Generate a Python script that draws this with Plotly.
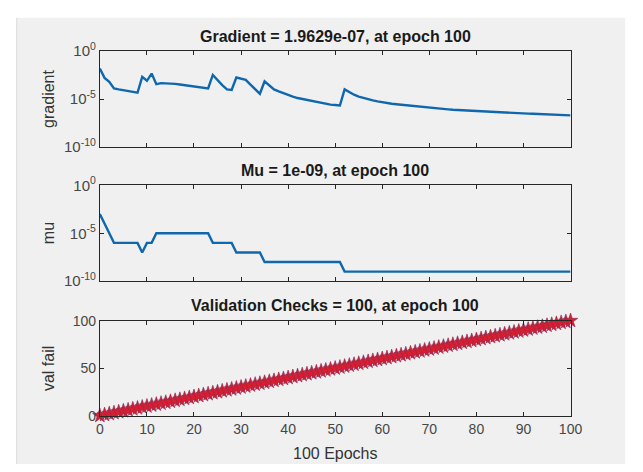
import plotly.graph_objects as go

W, H = 643, 472

epochs = [
    0, 1, 2, 3, 4, 5, 6, 7, 8, 9, 10, 11, 12, 13, 14, 15, 16, 17, 18, 19,
    20, 21, 22, 23, 24, 25, 26, 27, 28, 29, 30, 31, 32, 33, 34, 35, 36, 37, 38, 39,
    40, 41, 42, 43, 44, 45, 46, 47, 48, 49, 50, 51, 52, 53, 54, 55, 56, 57, 58, 59,
    60, 61, 62, 63, 64, 65, 66, 67, 68, 69, 70, 71, 72, 73, 74, 75, 76, 77, 78, 79,
    80, 81, 82, 83, 84, 85, 86, 87, 88, 89, 90, 91, 92, 93, 94, 95, 96, 97, 98, 99,
    100,
]

gradient = [
    1.48e-2, 1.58e-3, 6.3e-4, 1.26e-4, 1.0e-4, 7.9e-5, 6.3e-5, 5.0e-5, 4.5e-5, 2.0e-3,
    7.9e-4, 4.5e-3, 3.5e-4, 4.5e-4, 4.5e-4, 4.0e-4, 3.8e-4, 3.2e-4, 2.8e-4, 2.5e-4,
    2.0e-4, 1.6e-4, 1.4e-4, 1.26e-4, 3.2e-3, 8.9e-4, 2.8e-4, 1.0e-4, 8.9e-5, 1.74e-3,
    1.26e-3, 1.0e-3, 3.2e-4, 1.0e-4, 3.5e-5, 7.1e-4, 2.5e-4, 1.0e-4, 6.3e-5, 4.0e-5,
    2.8e-5, 1.8e-5, 1.26e-5, 1.0e-5, 7.9e-6, 6.3e-6, 5.0e-6, 4.0e-6, 3.2e-6, 2.6e-6,
    2.4e-6, 2.1e-6, 1.0e-4, 5.0e-5, 2.8e-5, 1.8e-5, 1.26e-5, 8.9e-6, 7.1e-6, 5.6e-6,
    4.5e-6, 3.5e-6, 3.2e-6, 2.8e-6, 2.5e-6, 2.1e-6, 1.9e-6, 1.66e-6, 1.4e-6, 1.26e-6,
    1.17e-6, 1.07e-6, 1.0e-6, 8.9e-7, 8.3e-7, 7.6e-7, 7.1e-7, 6.6e-7, 6.3e-7, 5.75e-7,
    5.4e-7, 5.0e-7, 4.8e-7, 4.5e-7, 4.3e-7, 4.0e-7, 3.8e-7, 3.6e-7, 3.5e-7, 3.3e-7,
    3.2e-7, 3.0e-7, 2.9e-7, 2.75e-7, 2.6e-7, 2.5e-7, 2.4e-7, 2.3e-7, 2.2e-7, 2.04e-7,
    1.9629e-7,
]

mu = [
    1e-3, 1e-4, 1e-5, 1e-6, 1e-6, 1e-6, 1e-6, 1e-6, 1e-6, 1e-7,
    1e-6, 1e-6, 1e-5, 1e-5, 1e-5, 1e-5, 1e-5, 1e-5, 1e-5, 1e-5,
    1e-5, 1e-5, 1e-5, 1e-5, 1e-6, 1e-6, 1e-6, 1e-6, 1e-6, 1e-7,
    1e-7, 1e-7, 1e-7, 1e-7, 1e-7, 1e-8, 1e-8, 1e-8, 1e-8, 1e-8,
    1e-8, 1e-8, 1e-8, 1e-8, 1e-8, 1e-8, 1e-8, 1e-8, 1e-8, 1e-8,
    1e-8, 1e-8, 1e-9, 1e-9, 1e-9, 1e-9, 1e-9, 1e-9, 1e-9, 1e-9,
    1e-9, 1e-9, 1e-9, 1e-9, 1e-9, 1e-9, 1e-9, 1e-9, 1e-9, 1e-9,
    1e-9, 1e-9, 1e-9, 1e-9, 1e-9, 1e-9, 1e-9, 1e-9, 1e-9, 1e-9,
    1e-9, 1e-9, 1e-9, 1e-9, 1e-9, 1e-9, 1e-9, 1e-9, 1e-9, 1e-9,
    1e-9, 1e-9, 1e-9, 1e-9, 1e-9, 1e-9, 1e-9, 1e-9, 1e-9, 1e-9,
    1e-9,
]

val_fail = [
    0, 1, 2, 3, 4, 5, 6, 7, 8, 9, 10, 11, 12, 13, 14, 15, 16, 17, 18, 19,
    20, 21, 22, 23, 24, 25, 26, 27, 28, 29, 30, 31, 32, 33, 34, 35, 36, 37, 38, 39,
    40, 41, 42, 43, 44, 45, 46, 47, 48, 49, 50, 51, 52, 53, 54, 55, 56, 57, 58, 59,
    60, 61, 62, 63, 64, 65, 66, 67, 68, 69, 70, 71, 72, 73, 74, 75, 76, 77, 78, 79,
    80, 81, 82, 83, 84, 85, 86, 87, 88, 89, 90, 91, 92, 93, 94, 95, 96, 97, 98, 99,
    100,
]

titles = [
    "Gradient = 1.9629e-07, at epoch 100",
    "Mu = 1e-09, at epoch 100",
    "Validation Checks = 100, at epoch 100",
]
y_labels = ["gradient", "mu", "val fail"]
x_label = "100 Epochs"
x_ticks = [0, 10, 20, 30, 40, 50, 60, 70, 80, 90, 100]
log_ticks = [1e-10, 1e-5, 1e0]
log_tick_text = ["10<sup>-10</sup>", "10<sup>-5</sup>", "10<sup>0</sup>"]
lin_ticks = [0, 50, 100]

FONT = "Arial, 'Liberation Sans', sans-serif"
BLUE = "#0f68ad"
TICKC = "#474747"

def px_x(p):
    return p / W

def px_y(p):
    return 1 - p / H

xd = [px_x(98.3), px_x(581)]
doms = [
    [px_y(141.7), px_y(41.7)],
    [px_y(281.5), px_y(181.7)],
    [px_y(421.7), px_y(322.7)],
]

fig = go.Figure()
fig.add_trace(go.Scatter(x=epochs, y=gradient, mode="lines",
                         line=dict(color=BLUE, width=2.4), xaxis="x", yaxis="y",
                         showlegend=False))
fig.add_trace(go.Scatter(x=epochs, y=mu, mode="lines",
                         line=dict(color=BLUE, width=2.4), xaxis="x2", yaxis="y2",
                         showlegend=False))
fig.add_trace(go.Scatter(x=epochs, y=val_fail, mode="lines+markers",
                         line=dict(color=BLUE, width=1.5),
                         marker=dict(symbol="star", size=11, color="#d81e2f",
                                     line=dict(color="#8a2a55", width=0.6)),
                         cliponaxis=False, xaxis="x3", yaxis="y3",
                         showlegend=False))

axis_common = dict(
    showline=True, linecolor="#262626", linewidth=1, mirror="ticks",
    ticks="inside", ticklen=4, tickcolor="#262626", showgrid=False,
    zeroline=False, tickfont=dict(family=FONT, size=14, color=TICKC),
)
log_font = dict(family=FONT, size=15, color=TICKC)

xa = dict(axis_common, domain=xd, range=[0, 100], tickvals=x_ticks)
layout = dict(
    width=W, height=H,
    margin=dict(l=0, r=0, t=0, b=0),
    paper_bgcolor="white", plot_bgcolor="white",
    font=dict(family=FONT),
    xaxis=dict(xa, anchor="y", showticklabels=False),
    xaxis2=dict(xa, anchor="y2", showticklabels=False),
    xaxis3=dict(xa, anchor="y3", showticklabels=True,
                ticktext=[str(v) for v in x_ticks]),
    yaxis=dict(axis_common, domain=doms[0], anchor="x", type="log",
               range=[-10, 0], tickvals=log_ticks, ticktext=log_tick_text,
               tickfont=log_font),
    yaxis2=dict(axis_common, domain=doms[1], anchor="x2", type="log",
                range=[-10, 0], tickvals=log_ticks, ticktext=log_tick_text,
                tickfont=log_font),
    yaxis3=dict(axis_common, domain=doms[2], anchor="x3", range=[0, 100],
                tickvals=lin_ticks),
)
fig.update_layout(**layout)

# gray figure background (MATLAB window) with white strip on top / left / right
fig.add_shape(type="rect", xref="paper", yref="paper", layer="below",
              x0=px_x(13), x1=px_x(637), y0=0, y1=px_y(7),
              fillcolor="#f0f0f0", line=dict(width=0))
fig.add_shape(type="line", xref="paper", yref="paper", layer="below",
              x0=px_x(13), x1=px_x(13), y0=0, y1=px_y(7),
              line=dict(color="#dcdcdc", width=1))

ann = []
title_y = [26.7, 166.7, 306.7]
for t, ty in zip(titles, title_y):
    ann.append(dict(text="<b>" + t + "</b>", x=px_x(339.7), y=px_y(ty),
                    xref="paper", yref="paper", showarrow=False,
                    xanchor="center", yanchor="middle",
                    font=dict(family=FONT, size=16, color="#1a1a1a")))
ylab_y = [91.7, 231.6, 372.2]
for lab, ly in zip(y_labels, ylab_y):
    ann.append(dict(text=lab, x=px_x(45), y=px_y(ly), xref="paper", yref="paper",
                    showarrow=False, textangle=-90, xanchor="center",
                    yanchor="middle",
                    font=dict(family=FONT, size=16, color="#333333")))
ann.append(dict(text=x_label, x=px_x(339.7), y=px_y(461.5), xref="paper",
                yref="paper", showarrow=False, xanchor="center", yanchor="middle",
                font=dict(family=FONT, size=16, color="#333333")))
fig.update_layout(annotations=ann)

fig.write_html("out.html")
